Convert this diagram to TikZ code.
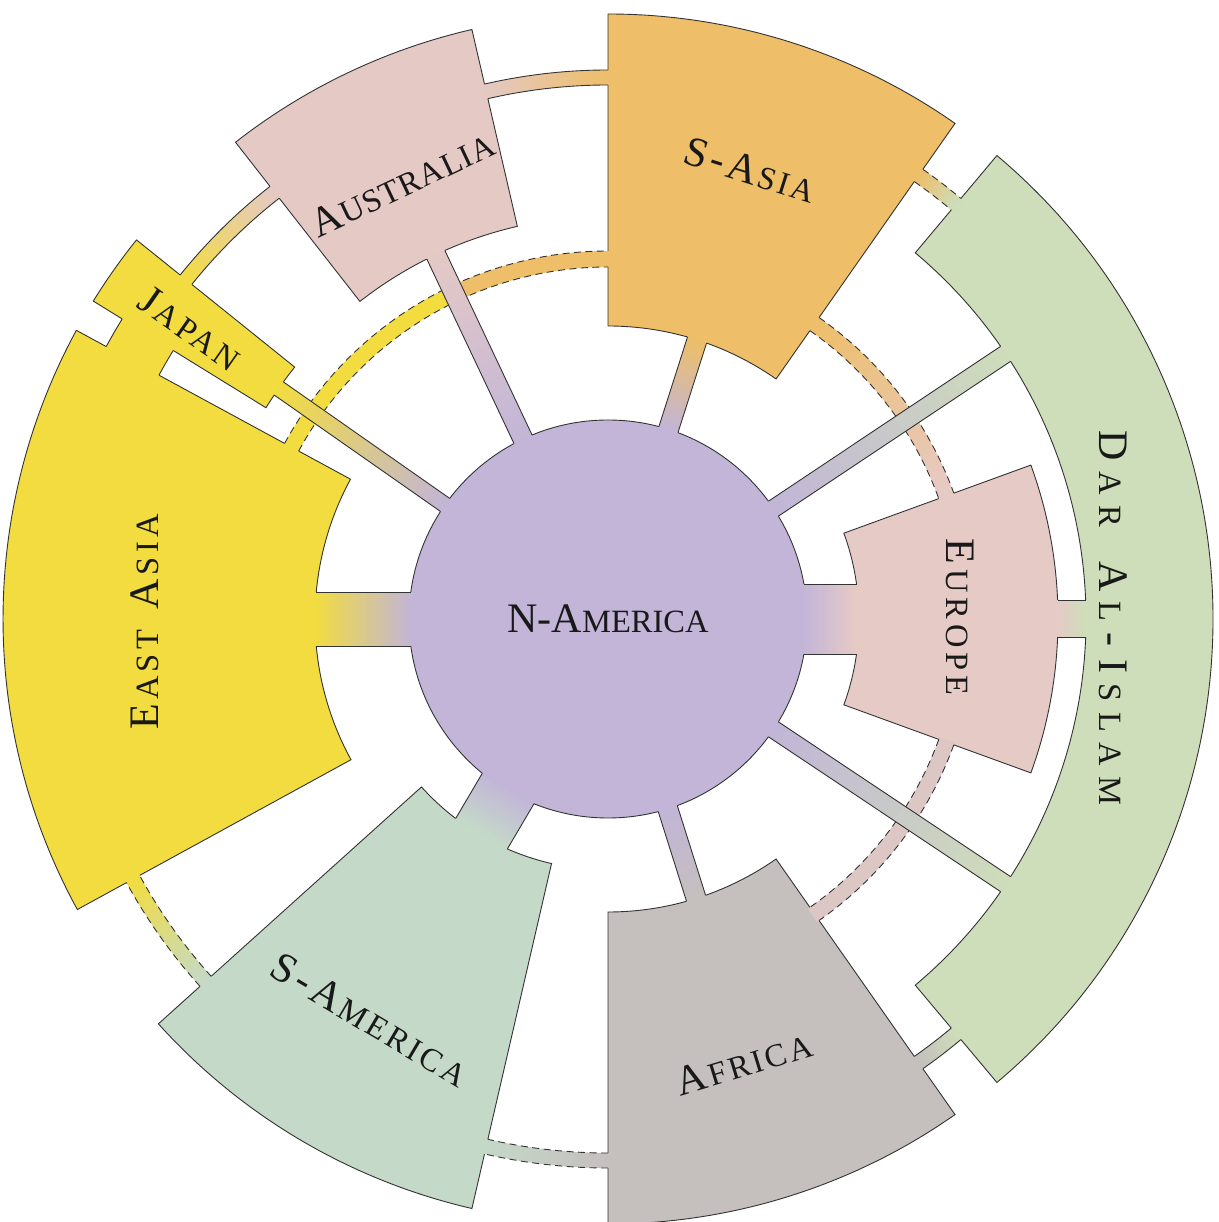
\documentclass[tikz,border=0pt]{standalone}
\usepackage{fontspec}
\setmainfont{Liberation Serif}
\usepackage{tikz}
\usetikzlibrary{calc}

\definecolor{purpleNA}{RGB}{194,181,216}
\definecolor{yellowEA}{RGB}{242,220,64}
\definecolor{orangeSA}{RGB}{238,190,104}
\definecolor{pinkAU}{RGB}{228,201,197}
\definecolor{pinkEU}{RGB}{230,202,198}
\definecolor{greenDI}{RGB}{206,221,186}
\definecolor{greenSM}{RGB}{196,217,200}
\definecolor{greyAF}{RGB}{197,191,190}

% tracking: gap in pt, and the same as LetterSpace of the small letters
\newlength{\trkamt}
\newcommand{\trk}[2]{\setlength{\trkamt}{#1pt}\addfontfeatures{LetterSpace=#2}}
\newcommand{\tg}{\kern\trkamt}
\newcommand{\sml}[1]{\tg{\fontsize{32.5}{33}\selectfont #1}}

% annular sector: fill, r in, r out, start angle, end angle
\newcommand{\region}[5]{%
  \filldraw[regionline, fill=#1] (#4:#2pt) arc[start angle=#4, end angle=#5, radius=#2pt]
    -- (#5:#3pt) arc[start angle=#5, end angle=#4, radius=#3pt] -- cycle;}

% ring band between two regions: colour a, colour b, r in, r out, angle a, angle b, edge style
\newcommand{\ringband}[7]{%
  \pgfmathsetmacro{\sg}{2*((#6)>(#5))-1}%
  \foreach \k in {0,...,23}{%
    \pgfmathsetmacro{\pa}{(#5)+((#6)-(#5))*\k/24-(\k==0)*0.4*\sg}%
    \pgfmathsetmacro{\pb}{(#5)+((#6)-(#5))*(\k+1)/24+(0.15+0.25*(\k==23))*\sg}%
    \pgfmathtruncatemacro{\pmix}{100-100*(\k+0.5)/24}%
    \fill[#1!\pmix!#2] (\pa:#3pt) arc[start angle=\pa, end angle=\pb, radius=#3pt]
      -- (\pb:#4pt) arc[start angle=\pb, end angle=\pa, radius=#4pt] -- cycle;
  }%
  \draw[#7] (#5:#3pt) arc[start angle=#5, end angle=#6, radius=#3pt];
  \draw[#7] (#5:#4pt) arc[start angle=#5, end angle=#6, radius=#4pt];}

% straight spoke: angle, half width, r from, r to, colour from, colour to
\newcommand{\spoke}[6]{%
  \begin{scope}[rotate=#1]
    \pgfmathsetmacro{\xa}{10*sqrt(((#3)/10)^2-((#2)/10)^2)}%
    \pgfmathsetmacro{\xb}{10*sqrt(((#4)/10)^2-((#2)/10)^2)}%
    \fill[#5] (\xa-6,-#2) rectangle (\xa+0.5,#2);
    \fill[#6] (\xb-0.5,-#2) rectangle (\xb+6,#2);
    \foreach \k in {0,...,23}{%
      \pgfmathsetmacro{\ua}{\xa+(\xb-\xa)*\k/24}%
      \pgfmathsetmacro{\ub}{\xa+(\xb-\xa)*(\k+1)/24+0.4}%
      \pgfmathtruncatemacro{\pmix}{100-100*(\k+0.5)/24}%
      \fill[#5!\pmix!#6] (\ua,-#2) rectangle (\ub,#2);
    }
    \draw[edgeline] (\xa,#2) -- (\xb,#2) (\xa,-#2) -- (\xb,-#2);
  \end{scope}}

\begin{document}
\begin{tikzpicture}[x=1pt, y=1pt,
    regionline/.style={draw=black!80, line width=0.9pt},
    edgeline/.style={draw=black!80, line width=0.9pt},
    dashline/.style={draw=black!80, line width=0.9pt, dash pattern=on 7pt off 4.5pt},
    lbl/.style={inner sep=0pt, text=black!90, font=\fontsize{42}{42}\selectfont}]
  \useasboundingbox (-608,-603) rectangle (610,619);

  % Regions
  \region{yellowEA}{293}{605}{151.5}{208.7}
  \region{yellowEA}{402}{605}{141.2}{148.3}
  \region{pinkAU}{403}{605}{103}{128}
  \region{orangeSA}{293}{605}{55}{90}
  \region{greenDI}{478}{605}{-50}{50}
  \region{pinkEU}{251}{450}{-20}{20}
  \region{greyAF}{293}{605}{270}{305}
  \region{greenSM}{251}{605}{222}{257}
  \filldraw[regionline, fill=purpleNA] (0,0) circle[radius=199pt];

  % Inner dashed ring
  \ringband{yellowEA}{yellowEA}{352}{368}{151.5}{115}{dashline}
  \ringband{orangeSA}{orangeSA}{352}{368}{115}{90}{dashline}
  \ringband{orangeSA}{pinkEU}{352}{368}{55}{20}{dashline}
  \ringband{pinkEU}{pinkEU!70!greyAF}{352}{368}{-20}{-55}{dashline}

  % Outer ring
  \ringband{yellowEA}{pinkAU}{534}{549}{141.2}{128}{edgeline}
  \ringband{pinkAU}{orangeSA}{534}{549}{103}{90}{edgeline}
  \ringband{orangeSA}{greenDI}{534}{549}{55}{50}{dashline}
  \ringband{greenDI}{greyAF}{534}{549}{-50}{-55}{edgeline}
  \ringband{greyAF}{greenSM}{534}{549}{270}{257}{dashline}
  \ringband{greenSM}{yellowEA}{534}{549}{222}{208.7}{dashline}
  \ringband{yellowEA}{yellowEA}{511}{571}{148.3}{151.5}{edgeline}

  % Spokes
  \spoke{0}{35}{199}{251}{purpleNA}{pinkEU}
  \spoke{180}{27}{199}{293}{purpleNA}{yellowEA}
  \spoke{239.5}{30}{199}{251}{purpleNA}{greenSM}
  \spoke{287.5}{10}{199}{293}{purpleNA}{greyAF}
  \spoke{-33.7}{9}{199}{478}{purpleNA}{greenDI}
  \spoke{33.7}{9}{199}{478}{purpleNA}{greenDI}
  \spoke{72.3}{10}{199}{293}{purpleNA}{orangeSA}
  \spoke{115.3}{10}{199}{403}{purpleNA}{pinkAU}
  \spoke{145}{8}{199}{402}{purpleNA}{yellowEA}
  \spoke{0}{18.5}{450}{478}{pinkEU}{greenDI}

  % Labels
  \node[lbl] (nam) at (0,0) {\trk{0}{0}N-A\sml{MERICA}};
  \node[lbl, rotate=-90] (eur) at (352,2) {\trk{5}{15}E\sml{UROPE}};
  \node[lbl, rotate=-90] (dar) at (505,1) {\trk{10.4}{32}D\sml{AR}\tg{} A\sml{L}\tg-I\sml{SLAM}};
  \node[lbl, rotate=90] (eas) at (-463,-3) {\trk{4.3}{13}E\sml{AST}\tg{} A\sml{SIA}};
  \node[lbl, rotate=-35] (jap) at (145.2:509pt) {\trk{3.1}{10}J\sml{APAN}};
  \node[lbl, rotate=25.3] (aus) at (115.3:482pt) {\trk{1}{3}A\sml{USTRALIA}};
  \node[lbl, rotate=-17.6] (sas) at (72.4:471pt) {\trk{2.9}{9}S-A\sml{SIA}};
  \node[lbl, rotate=17] (afr) at (287:464pt) {\trk{2.8}{9}A\sml{FRICA}};
  \node[lbl, rotate=-30.7] (sam) at (239.3:466pt) {\trk{3.1}{10}S-A\sml{MERICA}};
\end{tikzpicture}
\end{document}
